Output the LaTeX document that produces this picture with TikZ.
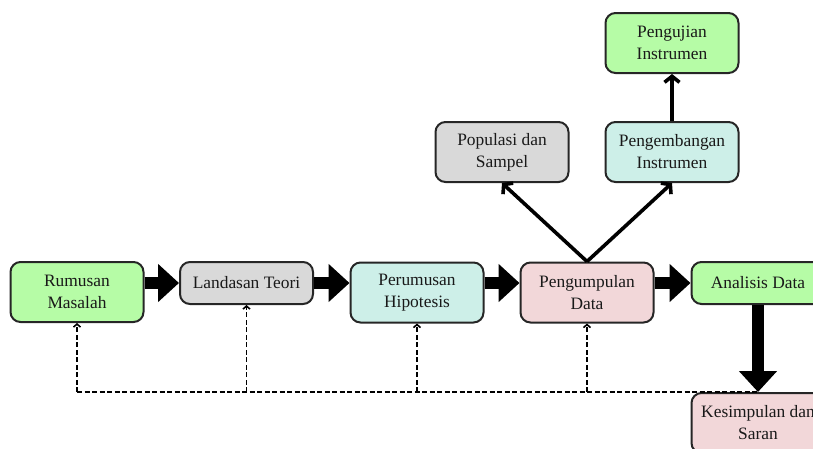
\documentclass[tikz,border=0pt]{standalone}
\usepackage{fontspec}
\setmainfont{Liberation Serif}
\usetikzlibrary{arrows.meta}
\definecolor{cgreen}{HTML}{B6FCA6}
\definecolor{cgray}{HTML}{D9D9D9}
\definecolor{cteal}{HTML}{CDEFE8}
\definecolor{cpink}{HTML}{F2D7D9}
\tikzset{
  box/.style={draw=black!85, line width=2pt, rounded corners=10pt, minimum width=133pt,
    minimum height=60pt, inner sep=0pt, align=center, font=\fontsize{17.4}{22}\selectfont, text=black!90},
  flat/.style={minimum height=42pt},
  bigarrow/.style={line width=12pt, -{Triangle[width=37pt,length=21pt]}},
  thinarrow/.style={line width=3.6pt, -{Straight Barb[length=6pt,width=15pt]}},
  dasharrow/.style={line width=1.6pt, dash pattern=on 5pt off 2.5pt, -{Straight Barb[length=3pt,width=7pt]}},
  dashline/.style={line width=1.6pt, dash pattern=on 5pt off 2.5pt}
}
\begin{document}
\begin{tikzpicture}[x=1pt,y=-1pt]
\useasboundingbox (0,0) rectangle (813,448);
\clip (0,0) rectangle (813,448);
\node[box, fill=cgreen] (rm) at (77,292) {Rumusan\\Masalah};
\node[box, flat, fill=cgray] (lt) at (246.5,283) {Landasan Teori};
\node[box, fill=cteal] (ph) at (417,292.5) {Perumusan\\Hipotesis};
\node[box, fill=cpink] (pd) at (587,292.5) {Pengumpulan\\Data};
\node[box, flat, fill=cgreen] (ad) at (758,283) {Analisis Data};
\node[box, fill=cpink] (ks) at (758,423) {Kesimpulan dan\\Saran};
\node[box, fill=cgray] (ps) at (502,152) {Populasi dan\\Sampel};
\node[box, fill=cteal] (pi) at (672,152) {Pengembangan\\Instrumen};
\node[box, fill=cgreen] (uj) at (672,43) {Pengujian\\Instrumen};

\draw[bigarrow] (rm.east |- lt.east) -- (lt.west);
\draw[bigarrow] (lt.east) -- (lt.east -| ph.west);
\draw[bigarrow] (ph.east |- lt.east) -- (lt.east -| pd.west);
\draw[bigarrow] (pd.east |- ad.west) -- (ad.west);
\draw[bigarrow] (ad.south) -- (ks.north);

\draw[thinarrow] (pd.north) -- (ps.south);
\draw[thinarrow] (pd.north) -- (pi.south);
\draw[thinarrow] (pi.north) -- (uj.south);

\coordinate (d1) at (77,392);
\coordinate (d2) at (246.5,392);
\coordinate (d3) at (417,392);
\coordinate (d4) at (587,392);
\coordinate (d5) at (758,392);
\draw[dashline] (d1) -- (d5);
\draw[dasharrow] (d1) -- (rm.south);
\draw[dasharrow] (d2) -- (lt.south);
\draw[dasharrow] (d3) -- (ph.south);
\draw[dasharrow] (d4) -- (pd.south);
\end{tikzpicture}
\end{document}
